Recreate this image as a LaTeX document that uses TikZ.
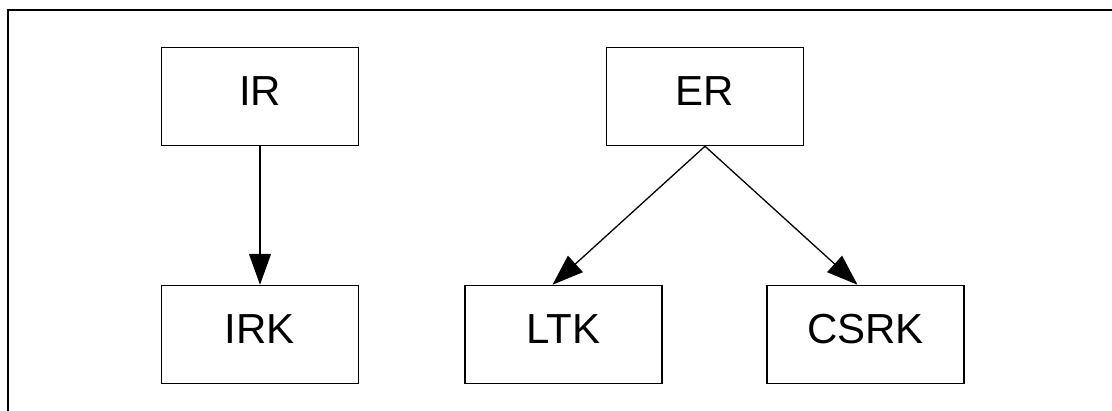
\documentclass[tikz,border=0pt]{standalone}
\usepackage{fontspec}
\setmainfont{Liberation Sans}
\usetikzlibrary{arrows.meta,calc}
\begin{document}
\begin{tikzpicture}[x=1pt,y=-1pt,
  keybox/.style={draw,line width=1.5pt,rectangle,minimum width=197pt,minimum height=98pt,
    inner sep=0pt,text height=30.5pt,text depth=13pt,
    font=\fontsize{42}{48}\selectfont},
  link/.style={line width=1.3pt,-{Triangle[length=31pt,width=22pt]}},
  frame/.style={line width=2pt}]
\useasboundingbox (0,0) rectangle (1112,410);
\draw[frame] (8,411) -- (8,10) -- (1113,10);
\node[keybox] (ir) at (260,96.5) {IR};
\node[keybox] (irk) at (260,334.5) {IRK};
\node[keybox] (er) at (705,96.5) {ER};
\node[keybox] (ltk) at (563.5,334.5) {LTK};
\node[keybox] (csrk) at (865.5,334.5) {CSRK};
\coordinate (ltkin) at ($(ltk.north)+(-11,0)$);
\coordinate (csrkin) at ($(csrk.north)+(-8,0)$);
\draw[link] (ir.south) -- (irk.north);
\draw[link] (er.south) -- (ltkin);
\draw[link] (er.south) -- (csrkin);
\end{tikzpicture}
\end{document}
